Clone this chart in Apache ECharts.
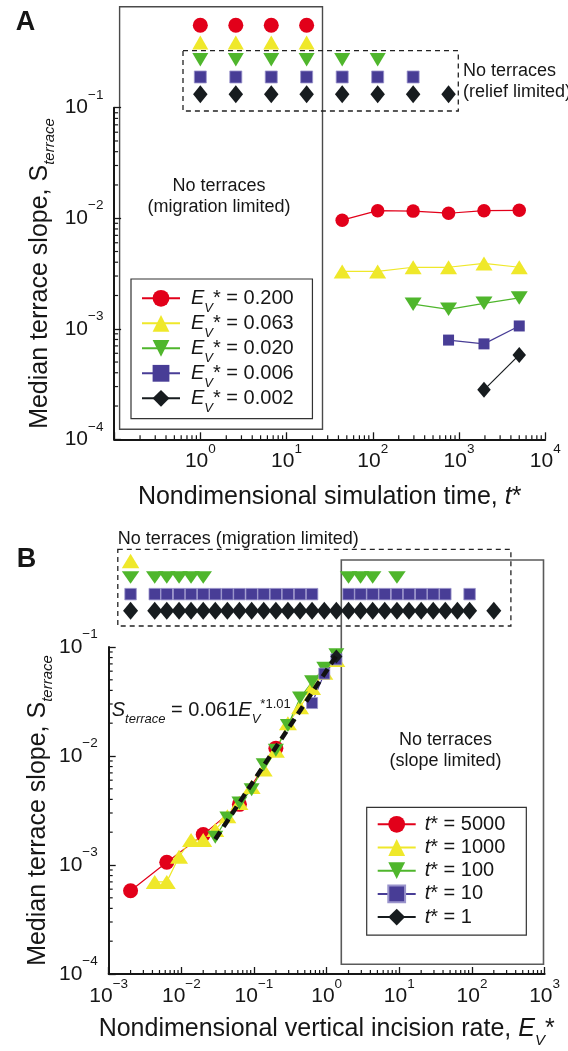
<!DOCTYPE html>
<html>
<head>
<meta charset="utf-8">
<title>Median terrace slope</title>
<script src="https://cdn.jsdelivr.net/npm/echarts@6.0.0/dist/echarts.min.js"></script>
<style>
  html, body { margin: 0; padding: 0; background: #ffffff; }
  #chart { width: 568px; height: 1051px; }
</style>
</head>
<body>
<div id="chart"></div>
<script>
// ---------- Panel A: median terrace slope through time ----------
const T_STAR = [1, 2.58, 6.65, 17.1, 44.2, 114, 294, 757, 1950, 5000];
const A_NAMES = ['0.200', '0.063', '0.020', '0.006', '0.002'];   // E_V* of each run set

// runs that formed terraces: t* and median terrace slope
const A_T_200 = [44.2, 114, 294, 757, 1950, 5000];
const A_S_200 = [0.0096, 0.0117, 0.0116, 0.0111, 0.0117, 0.0118];
const A_T_063 = [44.2, 114, 294, 757, 1950, 5000];
const A_S_063 = [0.0033, 0.0033, 0.0036, 0.0036, 0.0039, 0.0036];
const A_T_020 = [294, 757, 1950, 5000];
const A_S_020 = [0.00167, 0.0015, 0.0017, 0.0019];
const A_T_006 = [757, 1950, 5000];
const A_S_006 = [0.00079, 0.00073, 0.00106];
const A_T_002 = [1950, 5000];
const A_S_002 = [0.00028, 0.00058];

// runs without terraces, shown in the strip above the axes
const A_NONE_200 = [1, 2.58, 6.65, 17.1];
const A_NONE_063 = [1, 2.58, 6.65, 17.1];
const A_NONE_020 = [1, 2.58, 6.65, 17.1, 44.2, 114];
const A_NONE_006 = [1, 2.58, 6.65, 17.1, 44.2, 114, 294];
const A_NONE_002 = [1, 2.58, 6.65, 17.1, 44.2, 114, 294, 757];

// ---------- Panel B: median terrace slope against incision rate ----------
const B_NAMES = ['5000', '1000', '100', '10', '1'];   // t* of each snapshot

const B_EV_5000 = [0.002, 0.0063, 0.02, 0.063, 0.2];
const B_S_5000  = [0.00058, 0.00106, 0.0019, 0.0036, 0.0118];
const B_EV_1000 = [0.0043, 0.0063, 0.0093, 0.0136, 0.02, 0.0293, 0.043, 0.063, 0.0928, 0.136, 0.2, 0.293, 0.43, 0.63, 0.928, 1.36];
const B_S_1000  = [0.0007, 0.0007, 0.00119, 0.0017, 0.0017, 0.0021, 0.0028, 0.0037, 0.0052, 0.0075, 0.0112, 0.020, 0.028, 0.042, 0.058, 0.076];
const B_EV_100  = [0.0293, 0.043, 0.063, 0.0928, 0.136, 0.2, 0.293, 0.43, 0.63, 0.928, 1.36];
const B_S_100   = [0.0018, 0.0027, 0.0037, 0.0049, 0.0083, 0.0113, 0.019, 0.034, 0.048, 0.064, 0.085];
const B_EV_10   = [0.63, 0.928, 1.36];
const B_S_10    = [0.0306, 0.057, 0.077];
const B_EV_1    = [1.36];
const B_S_1     = [0.082];

// runs without terraces at each snapshot
const B_NONE_1000 = [0.002];
const B_NONE_100  = [0.002, 0.0043, 0.0063, 0.0093, 0.0136, 0.02, 2.0, 2.93, 4.3, 9.28];
const B_NONE_10   = [0.002, 0.0043, 0.0063, 0.0093, 0.0136, 0.02, 0.0293, 0.043, 0.063, 0.0928, 0.136, 0.2, 0.293, 0.43, 0.63,
                     2.0, 2.93, 4.3, 6.3, 9.28, 13.6, 20, 29.3, 43, 92.8];
const B_NONE_1    = [0.002, 0.0043, 0.0063, 0.0093, 0.0136, 0.02, 0.0293, 0.043, 0.063, 0.0928, 0.136, 0.2, 0.293, 0.43, 0.63,
                     0.928, 1.36, 2.0, 2.93, 4.3, 6.3, 9.28, 13.6, 20, 29.3, 43, 63, 92.8, 200];

// power-law fit quoted on the panel
const FIT_COEF = 0.061;
const FIT_EXP = 1.01;
const FIT_EV = [0.0293, 1.36];

// axis ranges
const A_X = [0.1, 10000];
const A_Y = [1e-4, 0.1];
const B_X = [1e-3, 1e3];
const B_Y = [1e-4, 0.1];

// ---------- styling ----------
const FONT = '"Liberation Sans", Arial, Helvetica, sans-serif';
const INK = '#161616';
const COL = { red: '#e2001a', yellow: '#efe82a', green: '#4fb62c', blue: '#483d96', black: '#171c1f' };
const TRI_DOWN = 'path://M0,0 L10,0 L5,9 Z';

const chart = echarts.init(document.getElementById('chart'), null, { renderer: 'canvas', width: 568, height: 1051 });

function powLabel(v) {
  const e = Math.round(Math.log10(v));
  return '{b|10}{s|' + (e < 0 ? '\u2212' + (-e) : String(e)) + '}';
}
const tickRich = {
  b: { fontSize: 21, lineHeight: 24, fontFamily: FONT, color: INK, verticalAlign: 'middle' },
  s: { fontSize: 13.5, lineHeight: 14, padding: [0, 0, 25, 0], fontFamily: FONT, color: INK, verticalAlign: 'middle' }
};

function logAxis(gridIndex, range, extra) {
  return Object.assign({
    type: 'log', logBase: 10, gridIndex: gridIndex, min: range[0], max: range[1],
    axisLine: { show: true, onZero: false, lineStyle: { color: INK, width: 2 } },
    axisTick: { show: true, inside: true, length: 7, lineStyle: { color: INK, width: 1.3 } },
    minorTick: { show: false },
    splitLine: { show: false },
    minorSplitLine: { show: false },
    nameMoveOverlap: false,
    axisLabel: { formatter: powLabel, rich: tickRich, margin: 10.5, fontFamily: FONT, color: INK }
  }, extra || {});
}
function hiddenLog(gridIndex, range) {
  return { type: 'log', logBase: 10, gridIndex: gridIndex, min: range[0], max: range[1], show: false,
           splitLine: { show: false } };
}
function hiddenRows(gridIndex, rows) {
  return { type: 'value', gridIndex: gridIndex, min: 0, max: rows, inverse: true, show: false,
           splitLine: { show: false } };
}

const nameRich = {
  n: { fontSize: 25, lineHeight: 30, fontFamily: FONT, color: INK, verticalAlign: 'middle' },
  i: { fontSize: 25, lineHeight: 30, fontFamily: FONT, color: INK, fontStyle: 'italic', verticalAlign: 'middle' },
  v: { fontSize: 15, lineHeight: 15, fontFamily: FONT, color: INK, fontStyle: 'italic', padding: [22, 0, 0, 0], verticalAlign: 'middle' },
  t: { fontSize: 15, lineHeight: 15, fontFamily: FONT, color: INK, fontStyle: 'italic', padding: [19, 0, 0, 0], verticalAlign: 'middle' }
};

function pairs(xs, ys) { return xs.map(function (x, i) { return [x, ys[i]]; }); }
function rowPoints(xs, row) { return xs.map(function (x) { return [x, row]; }); }

function dataLine(name, gi, xs, ys, color, symbol, size, extra) {
  return Object.assign({
    name: name, type: 'line', xAxisIndex: gi, yAxisIndex: gi,
    data: pairs(xs, ys), symbol: symbol, symbolSize: size, showSymbol: true,
    lineStyle: { color: color, width: 1.2 },
    itemStyle: { color: color, borderWidth: 0 },
    emphasis: { disabled: true }, silent: true
  }, extra || {});
}
function noneRow(name, gi, xs, row, color, symbol, size, itemExtra) {
  return {
    name: name, type: 'scatter', xAxisIndex: gi, yAxisIndex: gi,
    data: rowPoints(xs, row), symbol: symbol, symbolSize: size,
    itemStyle: Object.assign({ color: color, opacity: 1 }, itemExtra || {}),
    emphasis: { disabled: true }, silent: true
  };
}

// minor log ticks, drawn inward along the bottom and left axis lines
function minorTickData(xr, yr) {
  const out = [];
  for (let d = Math.round(Math.log10(xr[0])); d < Math.round(Math.log10(xr[1])); d++) {
    for (let m = 2; m <= 9; m++) out.push([m * Math.pow(10, d), yr[0], 0]);
  }
  for (let d = Math.round(Math.log10(yr[0])); d < Math.round(Math.log10(yr[1])); d++) {
    for (let m = 2; m <= 9; m++) out.push([xr[0], m * Math.pow(10, d), 1]);
  }
  return out;
}
function minorTickSeries(gi, xr, yr) {
  return {
    type: 'custom', xAxisIndex: gi, yAxisIndex: gi, silent: true, z: 6,
    data: minorTickData(xr, yr),
    renderItem: function (params, api) {
      const p = api.coord([api.value(0), api.value(1)]);
      const horiz = api.value(2) === 0;
      return {
        type: 'line',
        shape: { x1: p[0], y1: p[1], x2: horiz ? p[0] : p[0] + 4, y2: horiz ? p[1] - 4 : p[1] },
        style: { stroke: INK, lineWidth: 1.2 }
      };
    }
  };
}

const legendBase = {
  orient: 'vertical', itemWidth: 38, itemHeight: 21, selectedMode: false,
  borderColor: '#333', borderWidth: 1.2, backgroundColor: '#ffffff',
  lineStyle: { width: 2 }
};

const fitS = FIT_EV.map(function (e) { return FIT_COEF * Math.pow(e, FIT_EXP); });

const option = {
  animation: false,
  backgroundColor: '#ffffff',
  textStyle: { fontFamily: FONT, color: INK },
  grid: [
    { left: 114.1, top: 107.7, width: 431.1, height: 331.6, outerBoundsMode: 'none', containLabel: false },
    { left: 114.1, top: 25.3, width: 431.1, height: 68.9, outerBoundsMode: 'none', containLabel: false },
    { left: 108.7, top: 647, width: 435.9, height: 327, outerBoundsMode: 'none', containLabel: false },
    { left: 108.7, top: 561, width: 435.9, height: 49.7, outerBoundsMode: 'none', containLabel: false }
  ],
  xAxis: [
    logAxis(0, A_X, {
      axisLabel: { formatter: function (v) { return v < 0.5 ? '' : powLabel(v); }, rich: tickRich, margin: 10.2 },
      name: '{n|Nondimensional simulation time, }{i|t}{n|*}',
      nameLocation: 'middle', nameGap: 42.4, nameTextStyle: { rich: nameRich }
    }),
    hiddenLog(1, A_X),
    logAxis(2, B_X, {
      name: '{n|Nondimensional vertical incision rate, }{i|E}{v|V}{n|*}',
      nameLocation: 'middle', nameGap: 40.5, nameTextStyle: { rich: nameRich }
    }),
    hiddenLog(3, B_X)
  ],
  yAxis: [
    logAxis(0, A_Y, {
      axisLabel: { formatter: powLabel, rich: tickRich, margin: 10.7 },
      name: '{n|Median terrace slope, S}{t|terrace}',
      nameLocation: 'middle', nameRotate: 90, nameGap: 59, nameTextStyle: { rich: nameRich }
    }),
    hiddenRows(1, 4),
    logAxis(2, B_Y, {
      axisLabel: { formatter: powLabel, rich: tickRich, margin: 11 },
      name: '{n|Median terrace slope, S}{t|terrace}',
      nameLocation: 'middle', nameRotate: 90, nameGap: 55.7, nameTextStyle: { rich: nameRich }
    }),
    hiddenRows(3, 3)
  ],
  legend: [
    Object.assign({}, legendBase, {
      data: A_NAMES, left: 131, top: 279, itemGap: -9, padding: [2.3, 18.8, 3.3, 10],
      formatter: function (n) { return '{e|E}{v|V}{r|* = ' + n + '}'; },
      textStyle: {
        rich: {
          e: { fontSize: 20, lineHeight: 24, fontStyle: 'italic', fontFamily: FONT, color: INK, padding: [0, 0, 0, 6], verticalAlign: 'middle' },
          v: { fontSize: 13, lineHeight: 13, fontStyle: 'italic', fontFamily: FONT, color: INK, padding: [21, 0, 0, 0], verticalAlign: 'middle' },
          r: { fontSize: 20, lineHeight: 24, fontFamily: FONT, color: INK, verticalAlign: 'middle' }
        }
      }
    }),
    Object.assign({}, legendBase, {
      data: B_NAMES, left: 366.7, top: 807.3, itemGap: 3.2, padding: [7, 21, 8, 10],
      formatter: function (n) { return '{t|t}{r|* = ' + n + '}'; },
      textStyle: {
        rich: {
          t: { fontSize: 20, lineHeight: 22, fontStyle: 'italic', fontFamily: FONT, color: INK, padding: [0, 0, 0, 4], verticalAlign: 'middle' },
          r: { fontSize: 20, lineHeight: 22, fontFamily: FONT, color: INK, verticalAlign: 'middle' }
        }
      }
    })
  ],
  series: [
    // Panel A, runs with terraces
    dataLine('0.200', 0, A_T_200, A_S_200, COL.red, 'circle', 13.5),
    dataLine('0.063', 0, A_T_063, A_S_063, COL.yellow, 'triangle', [17, 14]),
    dataLine('0.020', 0, A_T_020, A_S_020, COL.green, TRI_DOWN, [17, 13.5]),
    dataLine('0.006', 0, A_T_006, A_S_006, COL.blue, 'rect', 11),
    dataLine('0.002', 0, A_T_002, A_S_002, COL.black, 'diamond', [13.5, 16]),
    // Panel A, runs without terraces
    noneRow('none 0.200', 1, A_NONE_200, 0, COL.red, 'circle', 15),
    noneRow('none 0.063', 1, A_NONE_063, 1, COL.yellow, 'triangle', [16, 14]),
    noneRow('none 0.020', 1, A_NONE_020, 2, COL.green, TRI_DOWN, [16, 13.5]),
    noneRow('none 0.006', 1, A_NONE_006, 3, COL.blue, 'rect', 12, { borderColor: '#9a94cc', borderWidth: 0.8 }),
    noneRow('none 0.002', 1, A_NONE_002, 4, COL.black, 'diamond', [14.5, 18]),
    minorTickSeries(0, A_X, A_Y),

    // Panel B, snapshots with terraces
    dataLine('5000', 2, B_EV_5000, B_S_5000, COL.red, 'circle', 15),
    dataLine('1000', 2, B_EV_1000, B_S_1000, COL.yellow, 'triangle', [18, 14]),
    dataLine('100', 2, B_EV_100, B_S_100, COL.green, TRI_DOWN, [16, 13]),
    dataLine('10', 2, B_EV_10, B_S_10, COL.blue, 'rect', 11, { itemStyle: { color: COL.blue, borderColor: '#9a94cc', borderWidth: 0.8 } }),
    dataLine('1', 2, B_EV_1, B_S_1, COL.black, 'diamond', [12, 14]),
    {
      name: 'fit', type: 'line', xAxisIndex: 2, yAxisIndex: 2, z: 5, silent: true,
      data: pairs(FIT_EV, fitS), showSymbol: false, symbol: 'none',
      lineStyle: { color: '#111111', width: 4.5, type: [9, 6] }
    },
    // Panel B, snapshots without terraces
    noneRow('none 1000', 3, B_NONE_1000, 0, COL.yellow, 'triangle', [17.5, 14.5]),
    noneRow('none 100', 3, B_NONE_100, 1, COL.green, TRI_DOWN, [17.5, 12.5]),
    noneRow('none 10', 3, B_NONE_10, 2, COL.blue, 'rect', 11.5, { borderColor: '#9a94cc', borderWidth: 0.8 }),
    noneRow('none 1', 3, B_NONE_1, 3, COL.black, 'diamond', [15, 18]),
    minorTickSeries(2, B_X, B_Y)
  ],
  graphic: [
    // region frames
    { type: 'rect', z: 0, shape: { x: 119.6, y: 6.7, width: 202.9, height: 422.6 }, style: { fill: 'none', stroke: '#4a4a4a', lineWidth: 1.4 } },
    { type: 'rect', z: 0, shape: { x: 183, y: 50.7, width: 275.3, height: 60.3 }, style: { fill: 'none', stroke: '#222', lineWidth: 1.3, lineDash: [5, 4] } },
    { type: 'rect', z: 0, shape: { x: 117.8, y: 549.3, width: 393.1, height: 76.7 }, style: { fill: 'none', stroke: '#222', lineWidth: 1.3, lineDash: [5, 4] } },
    { type: 'rect', z: 0, shape: { x: 341.3, y: 560, width: 202.2, height: 404.3 }, style: { fill: 'none', stroke: '#5a5a5a', lineWidth: 1.6 } },
    // panel letters
    { type: 'text', x: 25.4, y: 23, style: { text: 'A', font: 'bold 27px ' + FONT, fill: INK, align: 'center', verticalAlign: 'middle' } },
    { type: 'text', x: 26.5, y: 560, style: { text: 'B', font: 'bold 27px ' + FONT, fill: INK, align: 'center', verticalAlign: 'middle' } },
    // region notes
    { type: 'text', x: 219, y: 197, style: { text: 'No terraces\n(migration limited)', font: '18px ' + FONT, lineHeight: 21, fill: INK, align: 'center', verticalAlign: 'middle' } },
    { type: 'text', x: 463, y: 82, style: { text: 'No terraces\n(relief limited)', font: '18px ' + FONT, lineHeight: 21, fill: INK, align: 'left', verticalAlign: 'middle' } },
    { type: 'text', x: 117.8, y: 539.3, style: { text: 'No terraces (migration limited)', font: '18px ' + FONT, fill: INK, align: 'left', verticalAlign: 'middle' } },
    { type: 'text', x: 445.5, y: 750.3, style: { text: 'No terraces\n(slope limited)', font: '18px ' + FONT, lineHeight: 20.5, fill: INK, align: 'center', verticalAlign: 'middle' } },
    // fitted relation
    {
      type: 'text', x: 111.7, y: 710,
      style: {
        text: '{s|S}{sub|terrace}{n| = 0.061}{e|E}{v|V}{sup|*1.01}',
        align: 'left', verticalAlign: 'middle', fill: INK,
        rich: {
          s: { fontSize: 20, lineHeight: 24, fontStyle: 'italic', fontFamily: FONT, fill: INK, verticalAlign: 'middle' },
          sub: { fontSize: 13, lineHeight: 13, fontStyle: 'italic', fontFamily: FONT, fill: INK, padding: [19, 0, 0, 0], verticalAlign: 'middle' },
          n: { fontSize: 20, lineHeight: 24, fontFamily: FONT, fill: INK, verticalAlign: 'middle' },
          e: { fontSize: 20, lineHeight: 24, fontStyle: 'italic', fontFamily: FONT, fill: INK, verticalAlign: 'middle' },
          v: { fontSize: 13, lineHeight: 13, fontStyle: 'italic', fontFamily: FONT, fill: INK, padding: [18, 0, 0, 0], verticalAlign: 'middle' },
          sup: { fontSize: 13, lineHeight: 13, fontFamily: FONT, fill: INK, padding: [0, 0, 11, 0], verticalAlign: 'middle' }
        }
      }
    }
  ]
};

chart.setOption(option);
</script>
</body>
</html>
